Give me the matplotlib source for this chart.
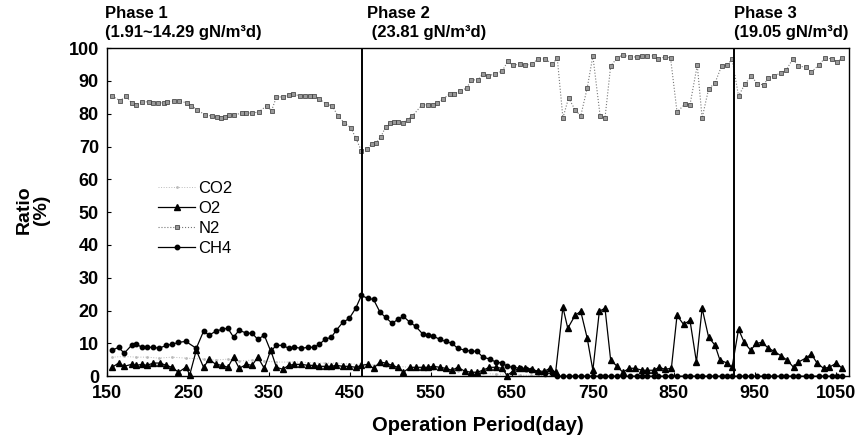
import matplotlib
matplotlib.use("Agg")
import matplotlib.pyplot as plt

plt.rcParams["font.family"] = ["Liberation Sans", "DejaVu Sans"]

# N2 (%)
n2_day = [156, 166, 173, 180, 186, 193, 201, 206, 213, 220, 224, 233, 239, 248, 254, 261, 271, 279,
          285, 290, 295, 301, 307, 316, 322, 329, 337, 347, 353, 359, 367, 374, 380, 388, 394, 400,
          406, 412, 420, 428, 435, 443, 451, 457, 464, 471, 477, 482, 488, 494, 499, 504, 509, 515,
          521, 527, 539, 546, 552, 558, 565, 573, 579, 586, 594, 600, 608, 614, 620, 629, 638, 645,
          651, 660, 666, 675, 682, 691, 700, 706, 713, 720, 728, 735, 743, 750, 759, 765, 772, 780,
          787, 796, 805, 811, 817, 825, 831, 839, 846, 854, 864, 870, 879, 885, 893, 901, 909, 916,
          922, 930, 938, 946, 953, 961, 967, 974, 982, 989, 997, 1004, 1013, 1020, 1029, 1037, 1046,
          1052, 1058]
n2 = [85.4, 83.9, 85.4, 83.3, 82.7, 83.6, 83.6, 83.3, 83.3, 83.3, 83.6, 83.9, 83.9, 83.3, 82.4, 81.2,
      79.6, 79.3, 79.0, 78.7, 79.0, 79.6, 79.6, 80.2, 80.2, 80.2, 80.5, 82.4, 80.9, 85.1, 85.1, 85.7,
      86.0, 85.4, 85.4, 85.4, 85.4, 84.5, 83.0, 82.4, 79.3, 77.2, 75.7, 72.6, 68.7, 69.3, 70.8, 71.1,
      72.9, 76.0, 77.2, 77.5, 77.5, 77.2, 78.1, 79.3, 82.7, 82.7, 82.7, 83.3, 84.5, 86.0, 86.0, 86.9,
      87.8, 90.3, 90.3, 92.1, 91.5, 92.1, 93.0, 96.0, 94.8, 95.1, 94.8, 95.1, 96.7, 96.7, 95.1, 97.0,
      78.7, 84.8, 81.2, 79.3, 87.8, 97.6, 79.3, 78.7, 94.5, 97.0, 97.9, 97.3, 97.3, 97.6, 97.6, 97.6,
      96.7, 97.3, 97.0, 80.5, 83.0, 82.7, 94.8, 78.7, 87.5, 89.4, 94.5, 94.8, 96.7, 85.4, 89.1, 91.5,
      89.1, 88.8, 90.9, 91.5, 92.4, 93.3, 96.7, 94.5, 94.2, 92.7, 94.8, 97.0, 96.7, 95.7, 97.0]

# CH4 (%)
ch4_day = [156, 164, 171, 180, 186, 193, 199, 207, 214, 223, 230, 238, 247, 260, 269, 276, 284, 292,
           299, 306, 313, 322, 329, 336, 344, 352, 359, 367, 374, 381, 390, 398, 405, 412, 419, 427,
           433, 441, 449, 457, 464, 472, 479, 487, 494, 502, 509, 516, 524, 531, 540, 546, 553, 561,
           568, 576, 583, 592, 600, 607, 614, 623, 630, 638, 644, 651, 660, 667, 674, 682, 691, 699,
           706, 713, 720, 728, 735, 743, 750, 759, 765, 772, 780, 787, 796, 805, 811, 817, 825, 831,
           839, 846, 854, 864, 870, 879, 885, 893, 901, 909, 916, 922, 930, 938, 946, 953, 961, 967,
           974, 982, 989, 997, 1004, 1013, 1020, 1029, 1037, 1046, 1052, 1058]
ch4 = [7.9, 8.8, 7.0, 9.4, 9.7, 8.8, 8.8, 8.8, 8.5, 9.4, 9.7, 10.3, 10.6, 8.5, 13.7, 12.5, 13.7, 14.3,
       14.6, 11.9, 14.0, 13.1, 13.1, 11.2, 12.5, 7.6, 9.4, 9.4, 8.5, 8.8, 8.5, 8.8, 8.8, 9.7, 11.2,
       11.9, 14.0, 16.4, 17.6, 20.7, 24.6, 23.7, 23.4, 19.5, 17.9, 16.1, 17.3, 18.2, 16.4, 15.2, 12.8,
       12.5, 12.2, 11.2, 10.6, 10.0, 8.5, 7.9, 7.6, 7.6, 5.8, 5.2, 4.3, 4.0, 3.0, 2.7, 2.4, 2.1, 1.8,
       1.2, 0.9, 0.9, 0, 0, 0, 0, 0, 0, 0, 0, 0, 0, 0, 0, 0, 0, 0, 0, 0, 0, 0, 0, 0, 0, 0, 0, 0, 0, 0,
       0, 0, 0, 0, 0, 0, 0, 0, 0, 0, 0, 0, 0, 0, 0, 0, 0, 0, 0, 0, 0]

# O2 (%)
o2_day = [156, 164, 171, 180, 186, 193, 199, 207, 215, 223, 230, 238, 247, 252, 260, 269, 276, 284,
          292, 299, 306, 313, 322, 329, 336, 344, 352, 359, 367, 374, 381, 390, 398, 405, 412, 420,
          427, 433, 441, 449, 457, 464, 472, 479, 487, 494, 502, 509, 516, 524, 531, 540, 546, 553,
          561, 568, 576, 583, 592, 600, 607, 614, 622, 630, 638, 644, 651, 659, 666, 675, 682, 690,
          697, 704, 713, 719, 728, 735, 743, 750, 758, 765, 772, 780, 787, 795, 802, 811, 817, 825,
          832, 839, 847, 854, 862, 870, 878, 885, 893, 901, 907, 916, 922, 930, 937, 945, 952, 959,
          967, 974, 983, 990, 998, 1004, 1013, 1020, 1027, 1035, 1042, 1051, 1058]
o2 = [2.7, 4.0, 3.0, 3.6, 3.3, 3.6, 3.3, 4.0, 4.0, 3.3, 2.7, 1.2, 2.7, 0.5, 7.9, 2.7, 5.2, 3.6, 3.3,
      2.7, 5.8, 2.4, 3.6, 3.3, 5.8, 2.4, 7.9, 2.7, 2.1, 3.3, 3.6, 3.6, 3.3, 3.3, 3.0, 3.0, 3.0, 3.3,
      3.0, 3.0, 2.7, 3.3, 3.6, 2.4, 4.3, 4.0, 3.3, 2.7, 1.2, 2.7, 2.7, 2.7, 2.7, 3.0, 2.7, 2.4, 1.8,
      2.7, 1.5, 1.2, 1.2, 1.8, 2.7, 2.7, 2.4, 0.2, 1.5, 2.4, 2.4, 2.1, 1.5, 1.5, 2.4, 1.2, 21.0, 14.6,
      18.5, 19.8, 11.6, 1.8, 19.8, 20.7, 4.9, 3.0, 1.2, 2.4, 2.4, 1.8, 1.8, 1.8, 2.7, 2.1, 2.4, 18.5,
      15.8, 17.0, 4.3, 20.7, 11.9, 9.4, 4.9, 4.0, 2.7, 14.3, 10.3, 7.9, 10.0, 10.3, 8.5, 7.6, 6.1,
      4.9, 2.7, 4.3, 5.5, 6.7, 4.0, 2.4, 2.7, 4.0, 2.4]

# CO2 (%)
co2_day = [156, 171, 186, 199, 214, 230, 247, 269, 284, 299, 313, 329, 344, 359, 374, 390, 405, 419,
           433, 449, 464, 479, 494, 509, 524, 540, 553, 568, 583, 600, 614, 630, 644, 660, 674, 691,
           706]
co2 = [5.8, 6.0, 5.8, 5.8, 5.5, 5.8, 5.5, 5.2, 4.9, 5.2, 4.6, 4.9, 4.6, 4.3, 4.3, 4.3, 4.0, 4.0, 4.0,
       3.7, 3.7, 3.4, 3.0, 3.0, 2.7, 2.4, 2.1, 1.8, 1.5, 1.2, 0.9, 0.6, 0.6, 0.3, 0.3, 0.2, 0]

phase_bounds = [465, 925]
phase_titles = ["Phase 1", "Phase 2", "Phase 3"]
phase_loads = ["(1.91~14.29 gN/m³d)", " (23.81 gN/m³d)", "(19.05 gN/m³d)"]
phase_label_x = [0.122, 0.428, 0.856]

fig = plt.figure(figsize=(8.58, 4.41), dpi=100)
ax = fig.add_axes([0.125, 0.147, 0.865, 0.744])

ax.plot(co2_day, co2, ls=":", color="#bbbbbb", lw=0.7, marker=".", ms=2, label="CO2", clip_on=False)
ax.plot(o2_day, o2, ls="-", color="black", lw=0.9, marker="^", ms=4.5, label="O2", clip_on=False)
ax.plot(n2_day, n2, ls=":", color="#777777", lw=0.8, marker="s", ms=2.6, mfc="#999999", mec="#333333",
        mew=0.5, label="N2")
ax.plot(ch4_day, ch4, ls="-", color="black", lw=0.9, marker="o", ms=3.2, label="CH4", clip_on=False)

for b in phase_bounds:
    ax.axvline(b, color="black", lw=1.4)

ax.set_xlim(150, 1067)
ax.set_ylim(0, 100)
ax.set_xticks(range(150, 1051, 100))
ax.set_yticks(range(0, 101, 10))
ax.tick_params(direction="in", length=3, labelsize=13, pad=6)
for lab in ax.get_xticklabels() + ax.get_yticklabels():
    lab.set_fontweight("bold")
for side in ax.spines.values():
    side.set_linewidth(1.0)

ax.legend(loc="upper left", bbox_to_anchor=(0.06, 0.616), frameon=False, fontsize=12,
          handlelength=2.2, handletextpad=0.2, labelspacing=0.3, borderaxespad=0)

for x, t, l in zip(phase_label_x, phase_titles, phase_loads):
    fig.text(x, 0.970, t, fontsize=12, fontweight="bold", va="center")
    fig.text(x, 0.927, l, fontsize=12, fontweight="bold", va="center")

fig.text(0.038, 0.524, "Ratio\n(%)", rotation=90, fontsize=14, fontweight="bold",
         ha="center", va="center", multialignment="center", linespacing=1.0)
fig.text(0.557, 0.036, "Operation Period(day)", fontsize=14.5, fontweight="bold",
         ha="center", va="center")

fig.savefig("out.png", dpi=100)
